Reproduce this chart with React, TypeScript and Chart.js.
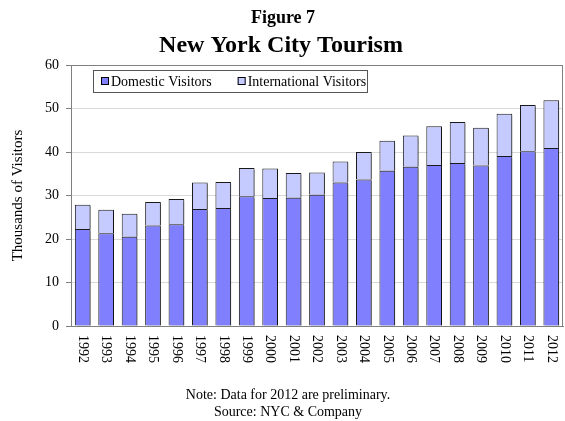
import React, { useEffect, useRef } from "react";
import { Chart, registerables } from "chart.js";

Chart.register(...registerables);

const years = ["1992","1993","1994","1995","1996","1997","1998","1999","2000","2001","2002","2003","2004","2005","2006","2007","2008","2009","2010","2011","2012"];
const domestic = [22.3, 21.3, 20.5, 23.1, 23.4, 26.9, 27.1, 29.8, 29.4, 29.5, 30.2, 33.0, 33.7, 35.7, 36.6, 37.0, 37.5, 36.9, 39.1, 40.2, 40.9];
const international = [5.6, 5.4, 5.3, 5.4, 5.8, 6.1, 6.0, 6.5, 6.8, 5.7, 5.1, 4.8, 6.3, 6.9, 7.2, 8.9, 9.4, 8.7, 9.7, 10.6, 11.0];
const yTicks = [0, 10, 20, 30, 40, 50, 60];

const FONT = "'Liberation Serif', 'Times New Roman', serif";

const decorPlugin = {
  id: "decor",
  beforeDatasetsDraw(chart: any) {
    const ctx = chart.ctx;
    ctx.save();
    ctx.shadowColor = "rgba(0,0,0,0.35)";
    ctx.shadowOffsetX = 1.5;
    ctx.shadowOffsetY = 1.5;
    ctx.shadowBlur = 0;
  },
  afterDatasetsDraw(chart: any) {
    chart.ctx.restore();
  },
  afterDraw(chart: any) {
    const ctx = chart.ctx;
    const area = chart.chartArea;
    const xs = chart.scales.x;
    ctx.save();
    // plot frame (top & right)
    ctx.strokeStyle = "#808080";
    ctx.lineWidth = 1;
    ctx.beginPath();
    ctx.moveTo(area.left, Math.round(area.top) + 0.5);
    ctx.lineTo(Math.round(area.right) - 0.5, Math.round(area.top) + 0.5);
    ctx.lineTo(Math.round(area.right) - 0.5, area.bottom);
    ctx.stroke();

    // titles
    ctx.fillStyle = "#000";
    ctx.textAlign = "center";
    ctx.textBaseline = "alphabetic";
    ctx.font = `bold 18px ${FONT}`;
    ctx.fillText("Figure 7", 283, 23);
    ctx.font = `bold 24px ${FONT}`;
    ctx.fillText("New York City Tourism", 281, 52);

    // x labels rotated clockwise
    ctx.font = `14px ${FONT}`;
    ctx.textAlign = "left";
    ctx.textBaseline = "middle";
    years.forEach((lab, i) => {
      const x = xs.getPixelForTick(i);
      ctx.save();
      ctx.translate(x, area.bottom + 9);
      ctx.rotate(Math.PI / 2);
      ctx.fillText(lab, 0, 0);
      ctx.restore();
    });

    // legend box
    const lx = 93, ly = 70, lw = 274, lh = 22;
    ctx.fillStyle = "#fff";
    ctx.fillRect(lx, ly, lw, lh);
    ctx.strokeStyle = "#555";
    ctx.strokeRect(lx + 0.5, ly + 0.5, lw, lh);
    const items = chart.data.datasets.map((d: any) => ({ label: d.label, color: d.backgroundColor }));
    let cx = 101;
    ctx.font = `14px ${FONT}`;
    ctx.textBaseline = "middle";
    ctx.textAlign = "left";
    items.forEach((it: any) => {
      ctx.fillStyle = it.color;
      ctx.fillRect(cx, ly + 7, 8, 8);
      ctx.strokeStyle = "#000";
      ctx.strokeRect(cx + 0.5, ly + 7.5, 7, 7);
      ctx.fillStyle = "#000";
      ctx.fillText(it.label, cx + 10, ly + 12);
      cx += 10 + ctx.measureText(it.label).width + 26;
    });

    // notes
    ctx.textAlign = "center";
    ctx.textBaseline = "alphabetic";
    ctx.font = `14px ${FONT}`;
    ctx.fillText("Note: Data for 2012 are preliminary.", 288, 399);
    ctx.fillText("Source: NYC & Company", 288, 416);
    ctx.restore();
  },
};

export default function App() {
  const ref = useRef<HTMLCanvasElement | null>(null);
  useEffect(() => {
    if (!ref.current) return;
    const chart = new Chart(ref.current, {
      type: "bar",
      data: {
        labels: years,
        datasets: [
          {
            label: "Domestic Visitors",
            data: domestic,
            backgroundColor: "#8080FF",
            borderColor: "#1a1a1a",
            borderWidth: 1,
            barPercentage: 0.67,
            categoryPercentage: 1,
          },
          {
            label: "International Visitors",
            data: international,
            backgroundColor: "#C6CBFF",
            borderColor: "#1a1a1a",
            borderWidth: 1,
            barPercentage: 0.67,
            categoryPercentage: 1,
          },
        ],
      },
      options: {
        responsive: false,
        animation: false,
        devicePixelRatio: 1,
        layout: { padding: { top: 65, right: 2, left: 0, bottom: 0 } },
        plugins: {
          legend: { display: false },
          tooltip: { enabled: false },
          title: { display: false },
        },
        scales: {
          x: {
            stacked: true,
            grid: { display: true, drawOnChartArea: false, drawTicks: false },
            border: { display: true, color: "#808080", width: 1 },
            ticks: { display: false },
            afterFit: (s: any) => { s.height = 95; },
          },
          y: {
            stacked: true,
            min: 0,
            max: 60,
            afterBuildTicks: (s: any) => { s.ticks = yTicks.map((v) => ({ value: v })); },
            grid: {
              color: (c: any) => (c.tick && c.tick.value === 60 ? "#808080" : "#d9d9d9"),
              tickColor: "#808080",
              tickLength: 5,
              lineWidth: 1,
            },
            border: { display: true, color: "#808080", width: 1 },
            ticks: {
              color: "#000",
              padding: 7,
              font: { family: FONT, size: 14 },
            },
            title: {
              display: true,
              text: "Thousands of Visitors",
              color: "#000",
              font: { family: FONT, size: 15 },
              padding: { top: 9, bottom: 0 },
            },
            afterFit: (s: any) => { s.width = 71; },
          },
        },
      },
      plugins: [decorPlugin],
    });
    return () => chart.destroy();
  }, []);
  return (
    <div style={{ position: "absolute", left: 0, top: 0, width: 565, height: 421 }}>
      <canvas ref={ref} width={565} height={421} style={{ width: 565, height: 421, display: "block" }} />
    </div>
  );
}
